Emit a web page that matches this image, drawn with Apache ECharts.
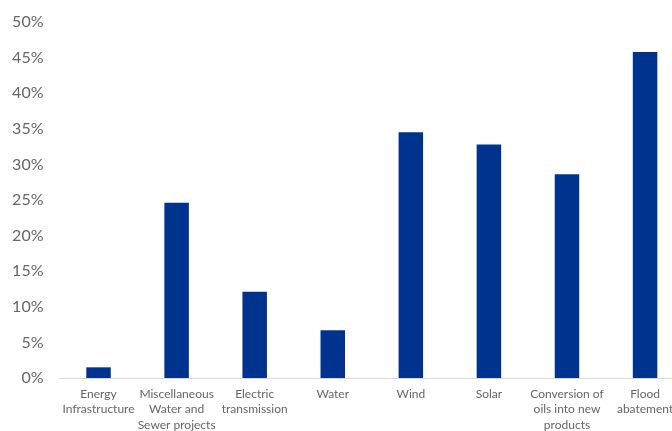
<!DOCTYPE html>
<html>
<head>
<meta charset="utf-8">
<script src="https://cdn.jsdelivr.net/npm/echarts@6/dist/echarts.min.js"></script>
<style>
html,body{margin:0;padding:0;background:#fff;}
#chart{width:672px;height:431px;}
</style>
</head>
<body>
<div id="chart"></div>
<script>
const categories = [
  "Energy\nInfrastructure",
  "Miscellaneous\nWater and\nSewer projects",
  "Electric\ntransmission",
  "Water",
  "Wind",
  "Solar",
  "Conversion of\noils into new\nproducts",
  "Flood\nabatement"
];
const values = [1.5, 24.6, 12.1, 6.7, 34.5, 32.8, 28.6, 45.8];
const yTicks = [0, 5, 10, 15, 20, 25, 30, 35, 40, 45, 50];

const chart = echarts.init(document.getElementById('chart'), null, {renderer: 'canvas'});
chart.setOption({
  animation: false,
  grid: {left: 59.5, top: 22, width: 624.6, height: 356, containLabel: false, outerBoundsMode: 'none'},
  xAxis: {
    type: 'category',
    data: categories,
    axisLine: {show: true, lineStyle: {color: '#d9d9d9', width: 1}},
    axisTick: {show: false},
    axisLabel: {
      interval: 0, margin: 8, hideOverlap: false,
      fontFamily: 'Lato', fontSize: 12, lineHeight: 15.5, color: '#666666'
    }
  },
  yAxis: {
    type: 'value',
    min: yTicks[0], max: yTicks[yTicks.length - 1], interval: 5,
    axisLine: {show: false},
    axisTick: {show: false},
    splitLine: {show: false},
    axisLabel: {
      margin: 16,
      formatter: v => v + '%',
      fontFamily: 'Lato', fontSize: 16, color: '#666666'
    }
  },
  series: [{
    type: 'bar',
    data: values,
    barWidth: 24.5,
    itemStyle: {color: '#00338D'}
  }]
});
</script>
</body>
</html>
